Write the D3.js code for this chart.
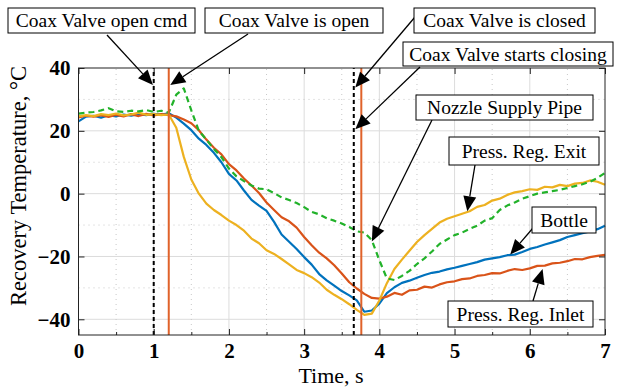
<!DOCTYPE html>
<html>
<head>
<meta charset="utf-8">
<script src="https://cdn.jsdelivr.net/npm/d3@7"></script>
</head>
<body style="margin:0;background:#fff">
<svg id="chart" width="619" height="387"></svg>
<script>
// sample times, s
const time = [0,0.1,0.2,0.3,0.4,0.5,0.6,0.7,0.8,0.9,1,1.1,1.2,1.3,1.4,1.5,1.6,1.7,1.8,1.9,
  2,2.1,2.2,2.3,2.4,2.5,2.6,2.7,2.8,2.9,3,3.1,3.2,3.3,3.4,3.5,3.6,3.7,3.8,3.9,
  4,4.1,4.2,4.3,4.4,4.5,4.6,4.7,4.8,4.9,5,5.1,5.2,5.3,5.4,5.5,5.6,5.7,5.8,5.9,
  6,6.1,6.2,6.3,6.4,6.5,6.6,6.7,6.8,6.9,7];

// recovery temperatures, degC
const bottle = [23,24.5,24.8,24.2,25,24.6,25.2,24.8,25.3,25,25.4,25.2,25.6,24.2,22.3,20.2,17.5,15.5,13,10,
  6.3,4.2,1.0,-2.0,-3.8,-5.5,-9,-13,-15.3,-17.6,-20.2,-22.6,-25.6,-27.6,-29.3,-31,-32.4,-34,-37.6,-37.2,
  -35,-31.7,-29.8,-28.4,-27.7,-26.8,-25.9,-25.2,-24.8,-24.1,-23.6,-23.0,-22.4,-21.8,-21.0,-20.6,-20.2,-19.6,-19.4,-18.6,
  -17.6,-17.0,-16.2,-15.5,-14.8,-13.8,-13.2,-12.6,-12.0,-11.3,-10.2];
const regInlet = [24.3,24.8,24.5,25.0,24.4,25.1,24.6,25.3,24.7,25.4,24.9,25.3,25.0,24.6,23.6,22.4,20.2,17.2,14.6,12.5,
  9.4,7.4,4.8,2.6,0.2,-2.8,-5.2,-7.5,-8.8,-10.8,-13.8,-16.4,-18.8,-20.6,-22.8,-25.4,-28.2,-30.2,-31.9,-33.2,
  -33.4,-32.8,-31.6,-32.2,-30.8,-30.6,-29.6,-29.9,-28.9,-28.2,-27.9,-27.2,-27.0,-26.2,-25.9,-25.3,-25.4,-24.6,-24.0,-24.3,
  -23.8,-23.0,-22.9,-22.2,-22.0,-21.5,-20.8,-20.9,-20.2,-19.8,-19.5];
const regExit = [24.6,25.0,24.7,25.3,25.0,25.5,24.9,25.2,25.8,25.1,25.3,25.0,25.2,21.0,11.7,4.5,0.0,-3.2,-5.2,-6.8,
  -8.6,-10.0,-11.8,-14.3,-15.8,-18.0,-19.2,-20.8,-22.5,-24.3,-25.3,-26.6,-28.3,-30.6,-32.2,-33.6,-35.2,-37.0,-38.6,-38.2,
  -34.0,-28.5,-24.0,-21.0,-18.2,-15.4,-13.2,-11.2,-9.2,-8.0,-7.2,-6.4,-5.6,-4.2,-3.6,-2.2,-1.6,-0.4,0.4,0.8,
  1.4,1.2,2.2,2.0,2.8,2.4,3.2,3.4,4.2,3.8,2.8];
const nozzle = [25.5,25.8,26.0,26.5,27.2,26.2,26.0,26.4,26.2,26.6,26.0,26.4,25.8,31.5,33.5,26.5,20.0,17.2,14.2,11.6,
  8.0,5.5,4.0,2.6,1.6,1.4,0.2,-1.2,-2.0,-3.0,-4.3,-5.8,-6.6,-7.8,-8.6,-9.5,-10.6,-12.0,-12.4,-14.8,
  -21.2,-27.0,-27.5,-26.2,-24.6,-22.4,-20.6,-18.4,-16.0,-14.6,-13.2,-12.4,-11.2,-10.2,-8.6,-7.8,-5.2,-3.8,-2.8,-1.6,
  -0.8,0.0,0.4,0.8,1.2,1.8,2.4,3.0,3.8,5.0,6.6];

// valve events, s
const eventTimes = [1.0, 1.2, 3.66, 3.76];
const eventKinds = ["cmd", "valve", "cmd", "valve"];

const xTicks = [0, 1, 2, 3, 4, 5, 6, 7];
const yTicks = [-40, -20, 0, 20, 40];
const xMinor = [0.5, 1.5, 2.5, 3.5, 4.5, 5.5, 6.5];
const yMinor = [-30, -10, 10, 30];

// annotation labels: text, tip (data), arrow start + box (px)
const notes = [
  { text: "Coax Valve open cmd", tip: [0.99, 34.6], from: [107, 35], box: [8, 8, 195, 33] },
  { text: "Coax Valve is open", tip: [1.22, 34.6], from: [248, 34], box: [205, 8, 383, 33] },
  { text: "Coax Valve is closed", tip: [3.68, 33.8], from: [415, 17], box: [414, 8, 595, 33] },
  { text: "Coax Valve starts closing", tip: [3.68, 20.5], from: [420, 67], box: [403, 42, 613, 66] },
  { text: "Nozzle Supply Pipe", tip: [3.9, -15.2], from: [432, 120], box: [416, 95, 593, 120] },
  { text: "Press. Reg. Exit", tip: [5.17, -5.6], from: [475, 165], box: [449, 137, 599, 165] },
  { text: "Bottle", tip: [5.74, -19.4], from: [533, 228], box: [532, 207, 596, 233] },
  { text: "Press. Reg. Inlet", tip: [6.17, -24.0], from: [533, 301], box: [448, 301, 593, 327] }
];

const FONT = '"Liberation Serif"';
const svg = d3.select("#chart");
const x = d3.scaleLinear().domain([0, 7]).range([78.5, 605]);
const y = d3.scaleLinear().domain([-45, 40]).range([335, 68]);
const [x0, x1] = x.range();
const [y0, y1] = y.range();

// grid
const grid = svg.append("g");
grid.selectAll(".gx").data(xTicks.slice(1, -1)).join("line")
  .attr("x1", d => x(d)).attr("x2", d => x(d)).attr("y1", y0).attr("y2", y1)
  .attr("stroke", "#dcdcdc").attr("stroke-width", 1);
grid.selectAll(".gy").data(yTicks.slice(0, -1)).join("line")
  .attr("y1", d => y(d)).attr("y2", d => y(d)).attr("x1", x0).attr("x2", x1)
  .attr("stroke", "#dcdcdc").attr("stroke-width", 1);
grid.selectAll(".mx").data(xMinor).join("line")
  .attr("x1", d => x(d)).attr("x2", d => x(d)).attr("y1", y0).attr("y2", y1)
  .attr("stroke", "#c8c8c8").attr("stroke-width", 1).attr("stroke-dasharray", "1,4");
grid.selectAll(".my").data(yMinor).join("line")
  .attr("y1", d => y(d)).attr("y2", d => y(d)).attr("x1", x0).attr("x2", x1)
  .attr("stroke", "#c8c8c8").attr("stroke-width", 1).attr("stroke-dasharray", "1,4");

// series
const line = d3.line().x((d, i) => x(time[i])).y(d => y(d));
const series = [
  { v: bottle, c: "#0072bd", dash: null },
  { v: regInlet, c: "#d95319", dash: null },
  { v: regExit, c: "#edb120", dash: null },
  { v: nozzle, c: "#22b22a", dash: "6,4" }
];
svg.append("g").selectAll("path").data(series).join("path")
  .attr("d", d => line(d.v))
  .attr("fill", "none")
  .attr("stroke", d => d.c)
  .attr("stroke-width", 2.2)
  .attr("stroke-linejoin", "round")
  .attr("stroke-dasharray", d => d.dash);

// valve event lines
svg.append("g").selectAll("line").data(eventTimes).join("line")
  .attr("x1", d => x(d)).attr("x2", d => x(d)).attr("y1", y0).attr("y2", y1)
  .attr("stroke", (d, i) => eventKinds[i] == "cmd" ? "#000" : "#e0622a")
  .attr("stroke-width", 2)
  .attr("stroke-dasharray", (d, i) => eventKinds[i] == "cmd" ? "4,3" : null);

// axes (ticks inside, box)
const xAxis = d3.axisBottom(x).tickValues(xTicks).tickFormat(d3.format("d"))
  .tickSizeInner(-6).tickSizeOuter(0).tickPadding(8);
const yAxis = d3.axisLeft(y).tickValues(yTicks).tickFormat(d3.format("d"))
  .tickSizeInner(-6).tickSizeOuter(0).tickPadding(8);
svg.append("g").attr("transform", `translate(0,${y0})`).call(xAxis);
svg.append("g").attr("transform", `translate(${x0},0)`).call(yAxis);
svg.append("g").attr("transform", `translate(0,${y1})`)
  .call(d3.axisTop(x).tickValues(xTicks).tickSizeInner(-6).tickSizeOuter(0).tickFormat(""));
svg.append("g").attr("transform", `translate(${x1},0)`)
  .call(d3.axisRight(y).tickValues(yTicks).tickSizeInner(-6).tickSizeOuter(0).tickFormat(""));
svg.append("g").attr("transform", `translate(0,${y0})`)
  .call(d3.axisBottom(x).tickValues(xMinor).tickSizeInner(-3).tickSizeOuter(0).tickFormat(""));
svg.selectAll(".domain").remove();
svg.selectAll(".tick line").attr("stroke", "#222");
svg.selectAll(".tick text").attr("font-size", 21).attr("font-weight", "bold").attr("fill", "#000")
  .style("font-family", FONT);

svg.append("rect").attr("x", x0).attr("y", y1).attr("width", x1 - x0).attr("height", y0 - y1)
  .attr("fill", "none").attr("stroke", "#222").attr("stroke-width", 1);

// axis labels
svg.append("text").attr("x", 331).attr("y", 383).attr("text-anchor", "middle")
  .style("font-family", FONT).attr("font-size", 22).text("Time, s");
svg.append("text").attr("transform", "translate(26,186) rotate(-90)").attr("text-anchor", "middle")
  .style("font-family", FONT).attr("font-size", 22.5).text("Recovery Temperature, °C");

// annotations
const ann = svg.append("g");
notes.forEach(n => {
  const tx = x(n.tip[0]), ty = y(n.tip[1]);
  const [fx, fy] = n.from;
  const ang = Math.atan2(ty - fy, tx - fx);
  const hl = 15, hw = 6.5;
  const bx = tx - hl * Math.cos(ang), by = ty - hl * Math.sin(ang);
  ann.append("line").attr("x1", fx).attr("y1", fy).attr("x2", bx).attr("y2", by)
    .attr("stroke", "#000").attr("stroke-width", 1.3);
  const pts = [[tx, ty],
    [bx + hw * Math.sin(ang), by - hw * Math.cos(ang)],
    [bx - hw * Math.sin(ang), by + hw * Math.cos(ang)]];
  ann.append("polygon").attr("points", pts.map(p => p.join(",")).join(" ")).attr("fill", "#000");
  const [l, t, r, b] = n.box;
  ann.append("rect").attr("x", l).attr("y", t).attr("width", r - l).attr("height", b - t)
    .attr("fill", "#fff").attr("stroke", "#000").attr("stroke-width", 1);
  ann.append("text").attr("x", (l + r) / 2).attr("y", (t + b) / 2 + 6.5)
    .attr("text-anchor", "middle").style("font-family", FONT).attr("font-size", 19.5).text(n.text);
});
</script>
</body>
</html>
